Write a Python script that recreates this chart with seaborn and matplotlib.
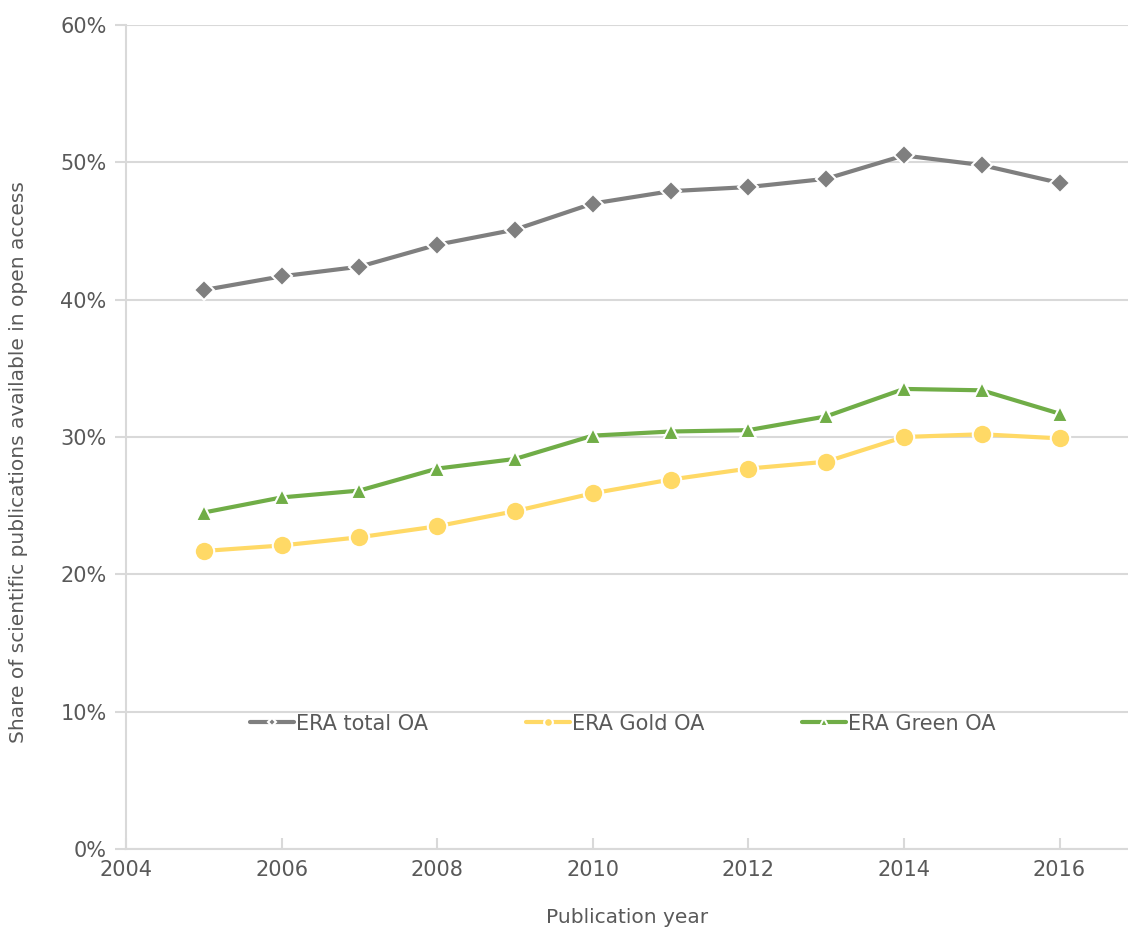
import seaborn as sns
import matplotlib.pyplot as plt
import pandas as pd
from matplotlib.ticker import PercentFormatter

years = list(range(2005, 2017))
total_oa = [40.7, 41.7, 42.4, 44.0, 45.1, 47.0, 47.9, 48.2, 48.8, 50.5, 49.8, 48.5]
gold_oa = [21.7, 22.1, 22.7, 23.5, 24.6, 25.9, 26.9, 27.7, 28.2, 30.0, 30.2, 29.9]
green_oa = [24.5, 25.6, 26.1, 27.7, 28.4, 30.1, 30.4, 30.5, 31.5, 33.5, 33.4, 31.7]

series_names = ["ERA total OA", "ERA Gold OA", "ERA Green OA"]
series_values = [total_oa, gold_oa, green_oa]
colors = ["#7f7f7f", "#ffd966", "#70ad47"]
markers = ["D", "o", "^"]
marker_sizes = [10, 14, 12]

sns.set_style("white")
plt.rcParams['font.family'] = ['DejaVu Sans']
text_color = "#595959"
grid_color = "#d9d9d9"

fig, ax = plt.subplots(figsize=(11.28, 9.3), dpi=100)
fig.subplots_adjust(left=126 / 1128, right=1.0, top=1 - 25 / 930, bottom=1 - 849 / 930)

for name, vals, c, m, ms in zip(series_names, series_values, colors, markers, marker_sizes):
    df = pd.DataFrame({"year": years, "share": vals})
    sns.lineplot(data=df, x="year", y="share", ax=ax, color=c, linewidth=3,
                 marker=m, markersize=ms, markeredgecolor="white",
                 markeredgewidth=1.5, label=name, zorder=3)

ax.set_xlim(2004, 2016.88)
ax.set_ylim(0, 60)
ax.set_xticks(range(2004, 2017, 2))
ax.set_yticks(range(0, 61, 10))
ax.yaxis.set_major_formatter(PercentFormatter(decimals=0))

ax.grid(axis="y", color=grid_color, linewidth=1.5, zorder=0)
ax.grid(axis="x", visible=False)
for side in ["top", "right"]:
    ax.spines[side].set_visible(False)
for side in ["left", "bottom"]:
    ax.spines[side].set_color(grid_color)
    ax.spines[side].set_linewidth(1.5)

ax.tick_params(axis="y", direction="out", length=8, color=grid_color, width=1.5,
               labelsize=15, labelcolor=text_color, pad=6, left=True)
ax.tick_params(axis="x", direction="in", length=8, color=grid_color, width=1.5,
               labelsize=15, labelcolor=text_color, pad=8, bottom=True)

ax.set_xlabel("Publication year", fontsize=14.5, color=text_color, labelpad=20)
ax.set_ylabel("Share of scientific publications available in open access",
              fontsize=14.5, color=text_color)
ax.yaxis.set_label_coords(-0.098, 0.47)

leg = ax.legend(loc="center", bbox_to_anchor=(0.496, 0.152), ncol=3, frameon=False,
                fontsize=15, handlelength=2.1, columnspacing=4.7, handletextpad=0.1,
                markerscale=0.45)
for t in leg.get_texts():
    t.set_color(text_color)

fig.savefig("out.png", dpi=100)
